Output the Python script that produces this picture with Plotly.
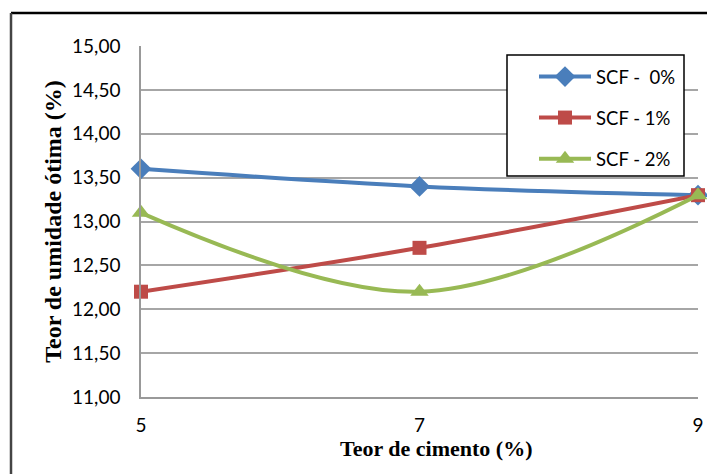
import plotly.graph_objects as go

cimento = [5, 7, 9]
scf0 = [13.6, 13.4, 13.3]
scf1 = [12.2, 12.7, 13.3]
scf2 = [13.1, 12.2, 13.3]
y_ticks = [11.0, 11.5, 12.0, 12.5, 13.0, 13.5, 14.0, 14.5, 15.0]
y_tick_labels = ["11,00", "11,50", "12,00", "12,50", "13,00", "13,50", "14,00", "14,50", "15,00"]
x_ticks = [5, 7, 9]

series = [
    ("SCF -  0%", scf0, "#4A7EBB", "diamond", 16),
    ("SCF - 1%", scf1, "#BE4B48", "square", 14),
    ("SCF - 2%", scf2, "#98B954", "triangle-up", 16),
]

W, H = 707, 474
L, R, T, B = 141, 9, 46, 77
PW, PH = W - L - R, H - T - B


def px(x):
    return (x - L) / PW


def py(y):
    return (H - B - y) / PH


fig = go.Figure()
for i, (name, vals, color, sym, sz) in enumerate(series):
    fig.add_trace(go.Scatter(
        x=cimento, y=vals, name=name, mode="lines+markers",
        line=dict(color=color, width=4, shape="spline", smoothing=1.0),
        marker=dict(symbol=sym, size=sz, color=color),
        legendgroup=str(i), cliponaxis=False,
    ))

tick_font = dict(family="Lato, Open Sans, sans-serif", size=19, color="#000")

fig.update_layout(
    width=W, height=H,
    margin=dict(l=L, r=R, t=T, b=B, autoexpand=False),
    paper_bgcolor="white", plot_bgcolor="white",
    showlegend=True,
    legend=dict(
        x=px(534), y=py(58), xanchor="left", yanchor="top",
        borderwidth=0, bgcolor="rgba(0,0,0,0)",
        font=dict(family="Lato, Open Sans, sans-serif", size=18.5, color="#000"),
        traceorder="grouped", tracegroupgap=14,
        itemwidth=52,
    ),
    xaxis=dict(
        range=[5, 9], tickvals=x_ticks, ticktext=[str(v) for v in x_ticks],
        showgrid=False, zeroline=False, showline=True, linecolor="#999", linewidth=1.5,
        ticks="", ticklabelstandoff=10, tickfont=tick_font, automargin=False,
    ),
    yaxis=dict(
        range=[11, 15], tickvals=y_ticks, ticktext=y_tick_labels,
        showgrid=True, gridcolor="#A6A6A6", gridwidth=1.5, zeroline=False,
        showline=True, linecolor="#999", linewidth=1.5,
        ticks="", ticklabelstandoff=15, tickfont=tick_font, automargin=False,
        title=dict(text="<b>Teor de umidade ótima (%)</b>",
                   font=dict(family="Liberation Serif, Times New Roman, serif", size=24, color="#000"),
                   standoff=4),
    ),
    annotations=[
        dict(text="<b>Teor de cimento (%)</b>", xref="paper", yref="paper",
             x=px(436), y=py(448), xanchor="center", yanchor="middle", showarrow=False,
             font=dict(family="Liberation Serif, Times New Roman, serif", size=22, color="#000")),
    ],
    shapes=[
        dict(type="rect", xref="paper", yref="paper", x0=px(507), x1=px(684), y0=py(176), y1=py(55),
             line=dict(color="#000", width=1.5), fillcolor="white", layer="above"),
        dict(type="line", xref="paper", yref="paper", x0=px(11), x1=px(707), y0=py(13), y1=py(13),
             line=dict(color="#000", width=2.5)),
        dict(type="line", xref="paper", yref="paper", x0=px(11), x1=px(11), y0=py(13), y1=py(474),
             line=dict(color="#444", width=2.5)),
    ],
)

fig.write_html("out.html", config={"displayModeBar": False},
               post_script="document.body.style.margin='0';document.body.style.padding='0';")
